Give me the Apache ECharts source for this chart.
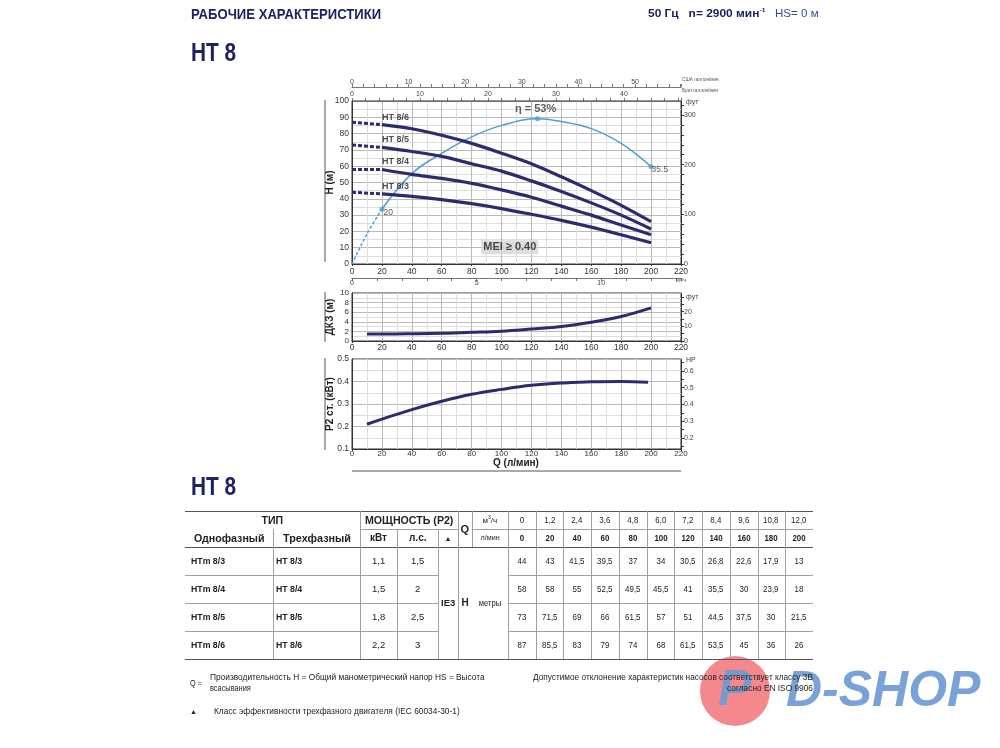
<!DOCTYPE html>
<html><head><meta charset="utf-8">
<script src="https://cdn.jsdelivr.net/npm/echarts/dist/echarts.min.js"></script>
<style>
html,body{margin:0;padding:0;background:#fff;}
#page{position:relative;width:1000px;height:748px;overflow:hidden;font-family:'Liberation Sans',Arial,sans-serif;color:#222;}
#chart{position:absolute;left:0;top:0;width:1000px;height:748px;z-index:1;}
#overlay{position:absolute;left:0;top:0;width:1000px;height:748px;z-index:3;pointer-events:none;}
#logo{position:absolute;left:0;top:0;width:1000px;height:748px;z-index:2;pointer-events:none;}
.t{position:absolute;white-space:nowrap;line-height:1;transform-origin:0 50%;}
.ln{position:absolute;}
</style></head><body>
<div id="page"><div id="chart"></div><div id="logo"></div><div id="overlay"></div></div>
<script>
// ---------------- DATA ----------------
const flowM3h = ['0','1,2','2,4','3,6','4,8','6,0','7,2','8,4','9,6','10,8','12,0'];
const flowLmin = [0,20,40,60,80,100,120,140,160,180,200];
const modelsMono = ['HTm 8/3','HTm 8/4','HTm 8/5','HTm 8/6'];
const models = ['HT 8/3','HT 8/4','HT 8/5','HT 8/6'];
const powerKw = ['1,1','1,5','1,8','2,2'];
const powerHp = ['1,5','2','2,5','3'];
const head83 = [44,43,41.5,39.5,37,34,30.5,26.8,22.6,17.9,13];
const head84 = [58,58,55,52.5,49.5,45.5,41,35.5,30,23.9,18];
const head85 = [73,71.5,69,66,61.5,57,51,44.5,37.5,30,21.5];
const head86 = [87,85.5,83,79,74,68,61.5,53.5,45,36,26];
const heads = [head83, head84, head85, head86];
const headText = [
  ['44','43','41,5','39,5','37','34','30,5','26,8','22,6','17,9','13'],
  ['58','58','55','52,5','49,5','45,5','41','35,5','30','23,9','18'],
  ['73','71,5','69','66','61,5','57','51','44,5','37,5','30','21,5'],
  ['87','85,5','83','79','74','68','61,5','53,5','45','36','26']
];
// efficiency curve (%)
const effQDash = [0,10,20];
const effDash = [0,11,20];
const effQ = [20,40,60,80,100,124,140,160,180,200];
const effPct = [20,33,40.4,46.4,50.6,53,52,49.4,44,35.5];
const effMarks = [[20,20,'20'],[124,53,'η = 53%'],[200,35.5,'35.5']];
// NPSH (m)
const npshQ = [10,20,40,60,80,100,120,140,160,180,200];
const npshM = [1.45,1.45,1.5,1.6,1.8,2.05,2.5,3.0,3.9,5.1,6.9];
// P2 (kW)
const powQ = [10,20,40,60,80,100,120,140,160,180,198];
const powKw = [0.21,0.233,0.275,0.312,0.343,0.365,0.383,0.393,0.399,0.4,0.397];
// axis labels
const usGpmLabels = [0,10,20,30,40,50];
const brGpmLabels = [0,10,20,30,40];
const m3hLabels = [0,5,10];
const ftLabels = [0,100,200,300];
const ftLabelsNpsh = [0,10,20];
const hpLabels = [0.2,0.3,0.4,0.5,0.6];

// ---------------- STYLE ----------------
const SANS = "'Liberation Sans',Arial,sans-serif";
const NAVY = '#2c2b6e';
const BLUE = '#4a9fd5';
const range = (a,b,s)=>{const r=[];for(let v=a;v<=b+1e-9;v+=s)r.push(+v.toFixed(4));return r;};
const lbl = {fontFamily:SANS, fontSize:8.5, color:'#333'};
const smallLbl = {fontFamily:SANS, fontSize:7, color:'#444'};
const axLine = {show:true, onZero:false, lineStyle:{color:'#333', width:1}};
const split = {show:true, lineStyle:{color:'#b9b9b9', width:1}};
const minorSplit = {show:true, lineStyle:{color:'#dedede', width:1}};
const yName = (n)=>({name:n, nameLocation:'middle', nameRotate:90, nameGap:17, nameMoveOverlap:false,
  nameTextStyle:{fontFamily:SANS, fontWeight:'bold', fontSize:10, color:'#222'}});

const grids = [
  {left:352, top:101, width:329, height:163, show:true, borderColor:'#333', borderWidth:1},
  {left:352, top:293, width:329, height:48, show:true, borderColor:'#333', borderWidth:1},
  {left:352, top:359, width:329, height:90, show:true, borderColor:'#333', borderWidth:1}
];

const qAxis = (g, m, fs)=>({gridIndex:g, type:'value', min:0, max:220, interval:20, position:'bottom',
  axisLine:axLine, axisTick:{show:true, length:2, lineStyle:{color:'#333'}},
  axisLabel:Object.assign({margin:m, showMinLabel:true, showMaxLabel:true}, lbl, fs?{fontSize:fs}:{}), splitLine:split,
  minorTick:{show:false, splitNumber:2}, minorSplitLine:minorSplit});

const secAxis = (pos, off, max, step, labels, margin)=>({gridIndex:0, type:'value', position:pos, offset:off, min:0, max:max, interval:step,
  axisLine:{show:true, onZero:false, lineStyle:{color:'#555', width:0.8}},
  axisTick:{show:true, length:3, lineStyle:{color:'#555', width:0.8}},
  axisLabel:Object.assign({customValues:labels, margin:margin}, smallLbl), splitLine:{show:false}});

const xAxes = [
  qAxis(0, 3),
  secAxis('top', 14, 220/3.78541, 2, usGpmLabels, 1),
  secAxis('top', 0, 220/4.54609, 2, brGpmLabels, 3),
  secAxis('bottom', 14, 13.2, 1, m3hLabels, 2),
  qAxis(1, 2),
  qAxis(2, 1, 8)
];

const rightAxis = (g, ext, ticks, labels, fmt)=>({gridIndex:g, type:'value', position:'right', min:ext[0], max:ext[1],
  axisLine:axLine, axisTick:{show:true, length:3, customValues:ticks, lineStyle:{color:'#333'}},
  axisLabel:Object.assign({customValues:labels, margin:3, formatter:fmt}, smallLbl), splitLine:{show:false}});

const yAxes = [
  Object.assign({gridIndex:0, type:'value', min:0, max:100, interval:10, axisLine:axLine, axisTick:{show:false},
    axisLabel:Object.assign({margin:3, showMinLabel:true, showMaxLabel:true}, lbl), splitLine:split, minorTick:{show:false, splitNumber:2}, minorSplitLine:minorSplit}, yName('H (м)')),
  rightAxis(0, [0,100/0.3048], range(0,320,20), ftLabels, v=>String(v)),
  {gridIndex:0, type:'value', show:false, min:0, max:59.5},
  Object.assign({gridIndex:1, type:'value', min:0, max:10, interval:2, axisLine:axLine, axisTick:{show:false},
    axisLabel:Object.assign({margin:3, showMinLabel:true, showMaxLabel:true, hideOverlap:false}, lbl, {fontSize:8}), splitLine:split, minorTick:{show:false, splitNumber:2}, minorSplitLine:minorSplit}, yName('ДКЗ (м)')),
  rightAxis(1, [0,10/0.3048], range(0,30,5), ftLabelsNpsh, v=>String(v)),
  Object.assign({gridIndex:2, type:'value', min:0.1, max:0.5, interval:0.1, axisLine:axLine, axisTick:{show:false},
    axisLabel:Object.assign({margin:3, showMinLabel:true, showMaxLabel:true, formatter:v=>(+v).toFixed(1)}, lbl), splitLine:split, minorTick:{show:false, splitNumber:2}, minorSplitLine:minorSplit}, yName('P2 ст. (кВт)')),
  rightAxis(2, [0.1/0.7457,0.5/0.7457], range(0.15,0.65,0.05), hpLabels, v=>(+v).toFixed(1))
];

const series = [];
// efficiency
series.push({type:'line', xAxisIndex:0, yAxisIndex:2, data:effQDash.map((q,i)=>[q,effDash[i]]), smooth:0.3, symbol:'none',
  lineStyle:{color:BLUE, width:1.5, type:[3,2]}, z:3});
series.push({type:'line', xAxisIndex:0, yAxisIndex:2, data:effQ.map((q,i)=>[q,effPct[i]]), smooth:0.4, symbol:'none',
  lineStyle:{color:BLUE, width:1.5}, z:3});
// H curves
heads.forEach((h,i)=>{
  series.push({type:'line', xAxisIndex:0, yAxisIndex:0, data:[[flowLmin[0],h[0]],[flowLmin[1],h[1]]], symbol:'none',
    lineStyle:{color:NAVY, width:3, type:[4,2]}, z:4});
  series.push({type:'line', xAxisIndex:0, yAxisIndex:0, data:flowLmin.slice(1).map((q,j)=>[q,h[j+1]]), smooth:0.3, symbol:'none',
    lineStyle:{color:NAVY, width:3.2}, z:4});
});
// model labels
series.push({type:'scatter', xAxisIndex:0, yAxisIndex:0, symbolSize:0, z:6, silent:true,
  data:models.map((m,i)=>({value:[flowLmin[1], heads[i][1]], name:m})),
  label:{show:true, formatter:p=>p.name, position:'top', align:'left', distance:3,
    fontFamily:SANS, fontWeight:'bold', fontSize:9, color:'#222'}});
// efficiency marks
const effLabelPos = [[4,1],[-20,-13],[3,1]];
series.push({type:'scatter', xAxisIndex:0, yAxisIndex:2, symbol:'circle', symbolSize:5, z:7, silent:true,
  itemStyle:{color:BLUE},
  data:effMarks.map((m,i)=>({value:[m[0],m[1]], name:m[2],
    label:{show:true, formatter:m[2], position:effLabelPos[i], fontFamily:SANS, fontSize:i===1?11:8.5,
      fontWeight:i===1?'bold':'normal', color:'#333'}}))});
// MEI box
series.push({type:'scatter', xAxisIndex:0, yAxisIndex:0, symbolSize:0, z:8, silent:true,
  data:[{value:[105.5,10.2], name:'MEI ≥ 0.40'}],
  label:{show:true, position:'inside', formatter:p=>p.name, backgroundColor:'#d4d4d4', padding:[2,2,1,2],
    fontFamily:SANS, fontWeight:'bold', fontSize:11, color:'#222'}});
// NPSH
series.push({type:'line', xAxisIndex:4, yAxisIndex:3, data:npshQ.map((q,i)=>[q,npshM[i]]), smooth:0.4, symbol:'none',
  lineStyle:{color:NAVY, width:3}});
// Power
series.push({type:'line', xAxisIndex:5, yAxisIndex:5, data:powQ.map((q,i)=>[q,powKw[i]]), smooth:0.4, symbol:'none',
  lineStyle:{color:NAVY, width:3}});

const chart = echarts.init(document.getElementById('chart'), null, {renderer:'canvas'});
chart.setOption({
  backgroundColor:'#fff', animation:false,
  grid:grids, xAxis:xAxes, yAxis:yAxes, series:series,
  graphic:[
    {type:'line', shape:{x1:325,y1:100,x2:325,y2:262}, style:{stroke:'#555', lineWidth:1}},
    {type:'line', shape:{x1:325,y1:292,x2:325,y2:342}, style:{stroke:'#555', lineWidth:1}},
    {type:'line', shape:{x1:325,y1:358,x2:325,y2:450}, style:{stroke:'#555', lineWidth:1}},
    {type:'line', shape:{x1:352,y1:471,x2:681,y2:471}, style:{stroke:'#555', lineWidth:1}}
  ]
});

// ---------------- TEXT & TABLE (HTML) ----------------
const ov = document.getElementById('overlay');
function txt(html, x, y, o){
  o = o||{};
  const d = document.createElement('div'); d.className='t'; d.innerHTML = html;
  d.style.left = x+'px'; d.style.top = y+'px';
  d.style.fontSize = (o.size||9)+'px';
  d.style.fontWeight = o.bold?'bold':'normal';
  d.style.fontFamily = o.font||SANS;
  d.style.color = o.color||'#222';
  if(o.style) Object.assign(d.style, o.style);
  ov.appendChild(d);
  const w = d.offsetWidth;
  const s = o.width ? o.width / w : (o.sx||1);
  const sw = w*s;
  const tx = o.align==='center' ? -sw/2 : (o.align==='right' ? -sw : 0);
  d.style.transform = 'translate('+tx+'px,-50%) scale('+s+',1)';
  return d;
}
function line(x1,y1,x2,y2,c){
  const d=document.createElement('div'); d.className='ln';
  d.style.left=Math.min(x1,x2)+'px'; d.style.top=Math.min(y1,y2)+'px';
  d.style.width=Math.max(1,Math.abs(x2-x1))+'px'; d.style.height=Math.max(1,Math.abs(y2-y1))+'px';
  d.style.background=c||'#9a9a9a'; ov.appendChild(d);
}
const TITLE = '#1e2262';
// header
txt('РАБОЧИЕ ХАРАКТЕРИСТИКИ', 191, 14, {bold:true, size:14, width:190, color:TITLE});
txt('50 Гц&nbsp;&nbsp; n= 2900 мин<sup style="font-size:6px;vertical-align:5px">-1</sup>', 648, 13, {bold:true, size:10.5, width:117, color:TITLE});
txt('HS= 0 м', 775, 13, {size:10.5, width:44, color:'#3b4a94'});
txt('HT 8', 191, 52, {bold:true, size:25, width:45, color:TITLE});
txt('HT 8', 191, 486, {bold:true, size:25, width:45, color:TITLE});

// small axis names
txt('США галлон/мин', 682, 80, {size:5.5, sx:0.85, color:'#555'});
txt('Брит.галлон/мин', 682, 91, {size:5.5, sx:0.85, color:'#555'});
txt('м³/ч', 676, 281, {size:5.5, color:'#555'});
txt('фут', 686, 101, {size:7, color:'#444'});
txt('фут', 686, 296, {size:7, color:'#444'});
txt('HP', 686, 359, {size:7, color:'#444'});
txt('Q (л/мин)', 516, 463, {align:'center', bold:true, size:10});

// table
const dW = (813-508)/11;
const yTop=511, yMid=529, yHd=547, rowsY=[547,575,603,631,659];
const dark='#555', grey='#a0a0a0';
line(185,yTop,813,yTop+1,dark);
line(360,yMid,458,yMid+1,grey); line(472,yMid,813,yMid+1,grey);
line(185,yHd,813,yHd+1,dark);
for(let r=1;r<4;r++){ line(185,rowsY[r],438,rowsY[r]+1,grey); line(508,rowsY[r],813,rowsY[r]+1,grey); }
line(185,rowsY[4],813,rowsY[4]+1,dark);
line(273,yMid,274,rowsY[4],grey);
line(360,yTop,361,rowsY[4],grey);
line(397,yMid,398,rowsY[4],grey);
line(438,yMid,439,rowsY[4],grey);
line(458,yTop,459,rowsY[4],grey);
line(472,yTop,473,yHd,grey);
for(let i=0;i<11;i++){ const x=Math.round(508+i*dW); line(x,yTop,x+1,rowsY[4],grey); }

const H1=520, H2=538;
txt('ТИП', (185+360)/2, H1, {align:'center', bold:true, size:10.5});
txt('МОЩНОСТЬ (P2)', (360+458)/2, H1, {align:'center', bold:true, size:10.5, width:88});
txt('Q', (458+472)/2, yMid, {align:'center', bold:true, size:11});
txt('м<sup style="font-size:5px;vertical-align:4px">3</sup>/ч', (472+508)/2, H1, {align:'center', size:8});
txt('Однофазный', (185+273)/2, H2, {align:'center', bold:true, size:10.5, width:70});
txt('Трехфазный', (273+360)/2, H2, {align:'center', bold:true, size:10.5, width:68});
txt('кВт', (360+397)/2, H2, {align:'center', bold:true, size:10});
txt('л.с.', (397+438)/2, H2, {align:'center', bold:true, size:10});
txt('▲', (438+458)/2, H2, {align:'center', size:7});
txt('л/мин', (472+508)/2, H2, {align:'center', size:8, sx:0.9});
flowM3h.forEach((v,i)=>txt(v, 508+(i+0.5)*dW, H1, {align:'center', size:9, sx:0.88}));
flowLmin.forEach((v,i)=>txt(String(v), 508+(i+0.5)*dW, H2, {align:'center', size:9, bold:true, sx:0.88}));
for(let r=0;r<4;r++){
  const y=(rowsY[r]+rowsY[r+1])/2;
  txt(modelsMono[r], 191, y, {bold:true, size:9.5, sx:0.92});
  txt(models[r], 276, y, {bold:true, size:9.5, sx:0.92});
  txt(powerKw[r], (360+397)/2, y, {align:'center', size:9.5});
  txt(powerHp[r], (397+438)/2, y, {align:'center', size:9.5});
  headText[r].forEach((v,i)=>txt(v, 508+(i+0.5)*dW, y, {align:'center', size:9, sx:0.88}));
}
txt('IE3', (438+458)/2, 603, {align:'center', bold:true, size:9.5});
txt('H', (458+472)/2, 603, {align:'center', bold:true, size:10});
txt('метры', (472+508)/2, 603, {align:'center', size:8.5, sx:0.9});

// footer
txt('Q =', 190, 683, {size:8.5, sx:0.85});
txt('Производительность H = Общий манометрический напор HS = Высота', 210, 677, {size:9, width:275});
txt('всасывания', 210, 688, {size:9, sx:0.82});
txt('Допустимое отклонение характеристик насосов соответствует классу 3B', 813, 677, {align:'right', size:9, width:280});
txt('согласно EN ISO 9906', 813, 688, {align:'right', size:9, width:86});
txt('▲', 190, 711, {size:7});
txt('Класс эффективности трехфазного двигателя (IEC 60034-30-1)', 214, 711, {size:9, width:246});

// watermark logo
const lg = document.getElementById('logo');
lg.innerHTML = '<div style="position:absolute;left:700px;top:656px;width:70px;height:70px;border-radius:50%;background:rgba(240,90,95,0.72);"></div>'+
  '<div style="position:absolute;left:718px;top:663px;font:italic bold 50px '+SANS+';color:rgba(110,155,210,0.92);line-height:1;">P</div>'+
  '<div style="position:absolute;left:786px;top:664px;font:italic bold 50px '+SANS+';color:rgba(110,155,210,0.92);line-height:1;">D-SHOP</div>';
</script></body></html>
